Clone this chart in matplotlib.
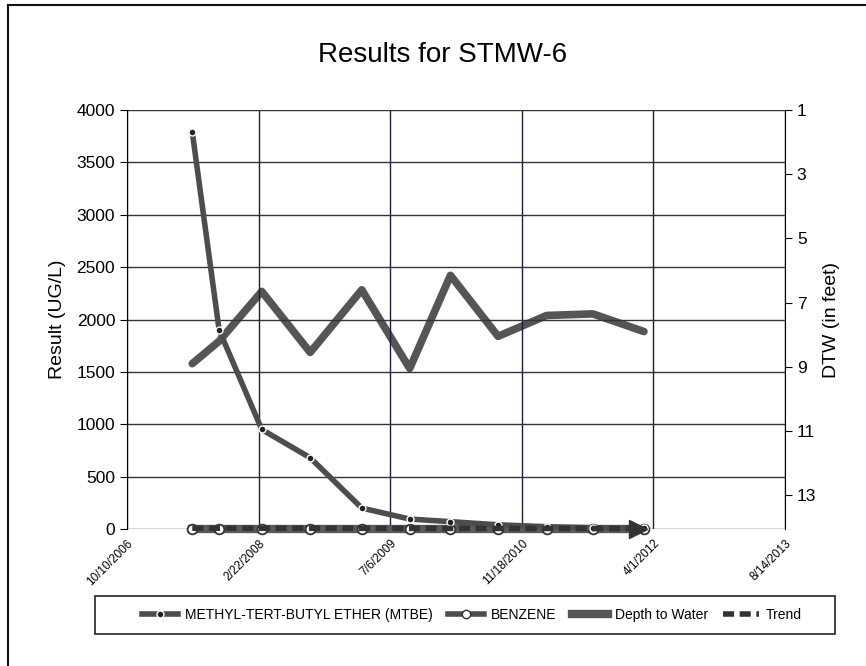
import matplotlib
matplotlib.use("Agg")
import matplotlib.pyplot as plt
from matplotlib.lines import Line2D
from matplotlib.patches import Rectangle
import pandas as pd

plt.rcParams['font.family'] = ['Liberation Sans', 'DejaVu Sans']

# fechas de muestreo y resultados
fechas = pd.to_datetime(['2007-06-15', '2007-09-25', '2008-03-05', '2008-09-05', '2009-03-20',
                         '2009-09-18', '2010-02-20', '2010-08-20', '2011-02-20', '2011-08-15',
                         '2012-02-25'])
mtbe = [3790, 1900, 950, 680, 200, 95, 70, 40, 22, 12, 6]
benceno = [0, 0, 0, 0, 0, 0, 0, 0, 0, 0, 0]
profundidad = [8.9, 8.2, 6.65, 8.55, 6.6, 9.05, 6.15, 8.05, 7.4, 7.35, 7.9]
tendencia_fechas = pd.to_datetime(['2007-06-15', '2012-02-01'])
tendencia = [8, 4]

eje_x_ticks = pd.to_datetime(['2006-10-10', '2008-02-22', '2009-07-06', '2010-11-18',
                              '2012-04-01', '2013-08-14'])
eje_x_labels = ['10/10/2006', '2/22/2008', '7/6/2009', '11/18/2010', '4/1/2012', '8/14/2013']
eje_y_ticks = [0, 500, 1000, 1500, 2000, 2500, 3000, 3500, 4000]
dtw_ticks = [1, 3, 5, 7, 9, 11, 13]

gris = '#4d4d4d'

fig = plt.figure(figsize=(8.66, 6.66), dpi=100)
ax = fig.add_axes([127/866, 1-529/666, 658/866, 419/666])
ax2 = ax.twinx()
ax.set_zorder(ax2.get_zorder() + 1)
ax.patch.set_visible(False)

# profundidad al agua (eje derecho, invertido)
ax2.plot(fechas, profundidad, color='#555555', lw=5.5, solid_capstyle='round')
ax2.set_ylim(14.05, 1)
ax2.set_yticks(dtw_ticks)

ax.plot(fechas, mtbe, color=gris, lw=4, marker='o', ms=5, mfc='#222', mec='white', mew=1,
        clip_on=False, zorder=4)
ax.plot(fechas, benceno, color='#5a5a5a', lw=6, marker='o', ms=7, mfc='white', mec='#333',
        mew=1.3, clip_on=False, zorder=3)
ax.plot(tendencia_fechas, tendencia, color='#333', lw=4, ls=(0, (2, 1)), clip_on=False, zorder=5)
ax.plot(tendencia_fechas[-1:], tendencia[-1:], color='#333', marker='>', ms=13, ls='none',
        clip_on=False, zorder=5)

ax.set_xlim(eje_x_ticks[0], eje_x_ticks[-1])
ax.set_ylim(0, 4000)
ax.set_yticks(eje_y_ticks)
ax.set_xticks(eje_x_ticks)
ax.set_xticklabels(eje_x_labels, rotation=45, ha='right', rotation_mode='anchor', fontsize=8.5)

ax.grid(True, axis='y', color='#333', lw=1)
ax.grid(True, axis='x', color='#1c1c3c', lw=1)
ax.tick_params(axis='y', labelsize=12.5, length=5, direction='out')
ax.tick_params(axis='x', length=0, pad=6)
ax2.tick_params(axis='y', labelsize=12.5, length=5, direction='out')

for a in (ax, ax2):
    a.spines['top'].set_visible(False)
    a.spines['bottom'].set_visible(False)
ax2.spines['left'].set_visible(False)
ax.spines['right'].set_visible(False)

ax.set_ylabel('Result (UG/L)', fontsize=14)
ax.yaxis.set_label_coords(-0.093, 0.5)
ax2.set_ylabel('DTW (in feet)', fontsize=14)
ax2.yaxis.set_label_coords(1.058, 0.5)

fig.text(443/866, 1-55/666, 'Results for STMW-6', fontsize=20, ha='center', va='center')

# leyenda abajo con su recuadro
manijas = [
    Line2D([], [], color=gris, lw=4, marker='o', ms=5, mfc='#222', mec='white'),
    Line2D([], [], color=gris, lw=4, marker='o', ms=6, mfc='white', mec='#333'),
    Line2D([], [], color='#555555', lw=6),
    Line2D([], [], color='#333', lw=4, ls=(0, (2, 1))),
]
nombres = ['METHYL-TERT-BUTYL ETHER (MTBE)', 'BENZENE', 'Depth to Water', 'Trend']
fig.legend(manijas, nombres, loc='center', bbox_to_anchor=(472/866, 1-615/666), ncol=4,
           frameon=False, fontsize=10, handlelength=2.6, columnspacing=1.1, handletextpad=0.5)
fig.patches.append(Rectangle((95/866, 1-634/666), 740/866, 38/666, transform=fig.transFigure,
                             fill=False, ec='#222', lw=1.2))
fig.add_artist(Line2D([8/866, 8/866], [0, 1-5/666], transform=fig.transFigure, color='#111', lw=1.5))
fig.add_artist(Line2D([8/866, 1], [1-5/666, 1-5/666], transform=fig.transFigure, color='#111', lw=1.5))

fig.savefig('out.png', dpi=100)
